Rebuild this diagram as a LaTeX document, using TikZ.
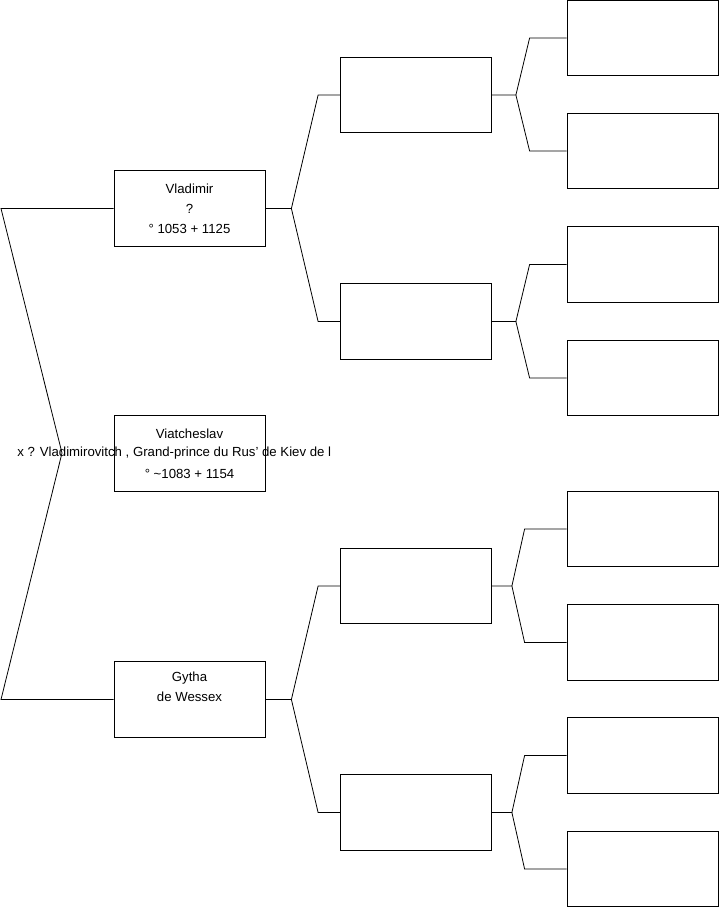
\documentclass[tikz,border=0pt]{standalone}
\usepackage{fontspec}
\setmainfont{Liberation Sans}
\usepackage{tikz}
\usetikzlibrary{calc}
\tikzset{>=latex}

\begin{document}
\begin{tikzpicture}[x=1pt,y=-1pt,line width=0.8pt,
    font=\fontsize{13.2}{20}\selectfont]
  \tikzstyle{person}=[draw,shape=rectangle,minimum width=151pt,minimum height=75.5pt,
    inner sep=0pt,align=center]
  \useasboundingbox (0,0) rectangle (719,908);
  % generation 1
  \node[person](vlad) at (189.5,208.5){Vladimir\\?\\° 1053 + 1125};
  \node[person](viat) at (189.5,453.5){Viatcheslav\\\strut\\° \textasciitilde1083 + 1154};
  \node[person](gytha) at (189.5,699.5){Gytha\\de Wessex\\\strut};
  \node[anchor=west,inner sep=0pt](union) at (17,453.5){x ? Vladimirovitch , Grand-prince du Rus' de Kiev de l};
  % generation 2
  \node[person](f1) at (416,95){};
  \node[person](f2) at (416,321.5){};
  \node[person](f3) at (416,586){};
  \node[person](f4) at (416,812.5){};
  % generation 3
  \node[person](g1) at (642.5,38){};
  \node[person](g2) at (642.5,151){};
  \node[person](g3) at (642.5,264.5){};
  \node[person](g4) at (642.5,378){};
  \node[person](g5) at (642.5,529){};
  \node[person](g6) at (642.5,642.5){};
  \node[person](g7) at (642.5,755.5){};
  \node[person](g8) at (642.5,869){};
  % couple
  \coordinate (c1) at (1,208.5);
  \coordinate (c2) at (1,699.5);
  \coordinate (apex) at (62,453);
  \draw (vlad.west) -- (c1) -- (apex) -- (c2) -- (gytha.west);
  % parents
  \foreach \a/\b/\c in {vlad/f1/f2,gytha/f3/f4}{
    \draw (\b.west) -- ++(-22,0) -- ($(\a.east)+(26,0)$) -- (\a.east);
    \draw (\c.west) -- ++(-22,0) -- ($(\a.east)+(26,0)$);
  }
  \foreach \a/\b/\c/\s/\t in {f1/g1/g2/24/37,f2/g3/g4/24/37,f3/g5/g6/20/42,f4/g7/g8/20/42}{
    \draw (\b.west) -- ++(-\t,0) -- ($(\a.east)+(\s,0)$) -- (\a.east);
    \draw (\c.west) -- ++(-\t,0) -- ($(\a.east)+(\s,0)$);
  }
\end{tikzpicture}
\end{document}
